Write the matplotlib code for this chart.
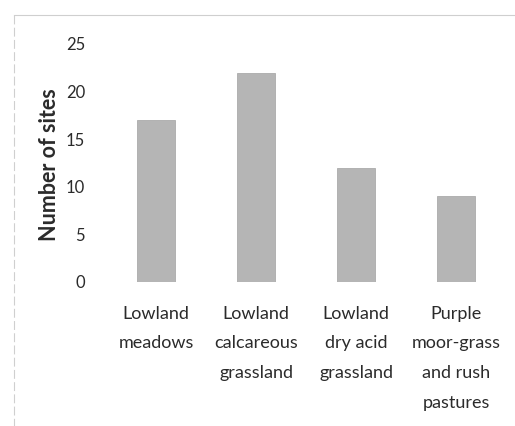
import matplotlib.pyplot as plt
from matplotlib.lines import Line2D

categories = ["Lowland\nmeadows", "Lowland\ncalcareous\ngrassland",
              "Lowland\ndry acid\ngrassland", "Purple\nmoor-grass\nand rush\npastures"]
sites = [17, 22, 12, 9]
yticks = [0, 5, 10, 15, 20, 25]

plt.rcParams['font.family'] = ['Lato', 'DejaVu Sans']

fig = plt.figure(figsize=(5.15, 4.26), dpi=100)
ax = fig.add_axes([106 / 515, 1 - 282 / 426, 400 / 515, 238 / 426])

x = range(len(categories))
ax.bar(x, sites, width=0.38, color="#b5b5b5", edgecolor="#ababab", linewidth=0.6)

ax.set_xlim(-0.5, 3.5)
ax.set_ylim(0, 25)
ax.set_yticks(yticks)
ax.set_yticklabels([str(v) for v in yticks], fontsize=12, color="#2b2b2b")
ax.set_xticks(list(x))
ax.set_xticklabels(categories, fontsize=13, color="#2b2b2b", linespacing=2.05, va="top")
ax.tick_params(axis="both", length=0)
ax.tick_params(axis="y", pad=15)
ax.tick_params(axis="x", pad=17)
for s in ax.spines.values():
    s.set_visible(False)

ax.set_ylabel("Number of sites", fontsize=15.5, fontweight="bold", color="#2b2b2b")
ax.yaxis.set_label_coords(-0.115, 0.495)

# light frame around the chart area
fig.add_artist(Line2D([14 / 515, 1.0], [1 - 15 / 426] * 2, color="#cfcfcf", lw=0.8,
                      transform=fig.transFigure))
fig.add_artist(Line2D([14 / 515] * 2, [1 - 15 / 426, 0.0], color="#cfcfcf", lw=0.8,
                      linestyle=(0, (8, 3)), transform=fig.transFigure))

fig.savefig("out.png", dpi=100)
